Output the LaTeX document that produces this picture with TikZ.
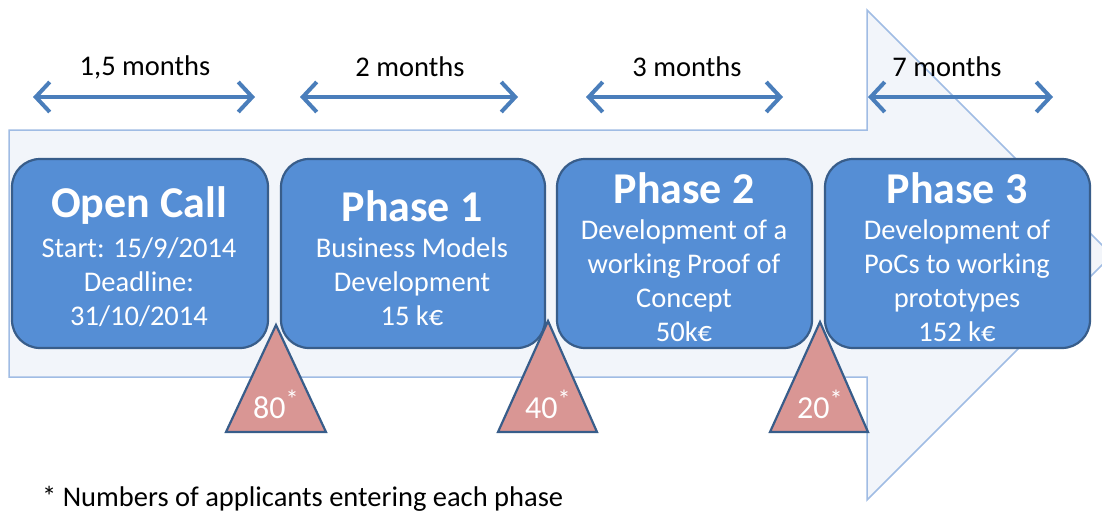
\documentclass[tikz,border=0pt]{standalone}
\usepackage{fontspec}
\setmainfont{Carlito}
\usetikzlibrary{arrows.meta}
\definecolor{bigfill}{RGB}{242,245,250}
\definecolor{bigline}{RGB}{160,188,228}
\definecolor{boxfill}{RGB}{85,142,213}
\definecolor{boxline}{RGB}{56,93,138}
\definecolor{trifill}{RGB}{217,150,148}
\definecolor{spanblue}{RGB}{74,126,187}
\tikzset{
  phasebox/.style={draw=boxline, line width=2.2pt, fill=boxfill, rounded corners=28pt, inner sep=0pt},
  titletext/.style={text=white, font=\fontsize{44}{50}\selectfont\bfseries, inner sep=0pt},
  bodytext/.style={text=white, font=\fontsize{28.5}{34}\selectfont, align=center, inner sep=0pt},
  tri/.style={draw=boxline, line width=2.2pt, fill=trifill, line join=miter},
  tritext/.style={text=white, font=\fontsize{32}{36}\selectfont, inner sep=0pt},
  span/.style={draw=spanblue, line width=4pt, {Straight Barb[length=14pt, width=30pt]}-{Straight Barb[length=14pt, width=30pt]}},
  spantext/.style={text=black, font=\fontsize{28.5}{34}\selectfont, inner sep=0pt},
}
\newcommand{\supstar}{\raisebox{10pt}{\fontsize{26}{26}\selectfont *}}
\begin{document}
\begin{tikzpicture}[x=1pt, y=-1pt]
\useasboundingbox (0,0) rectangle (1102,512);
\clip (0,0) rectangle (1102,512);
% big arrow
\draw[fill=bigfill, draw=bigline, line width=1.5pt]
  (9,130) -- (867,130) -- (867,10) -- (1112,255) -- (867,500) -- (867,377) -- (9,377) -- cycle;
% boxes
\node[phasebox, minimum width=256pt, minimum height=189pt] (b0) at (140,253.5) {};
\node[phasebox, minimum width=264pt, minimum height=189pt] (b1) at (413,253.5) {};
\node[phasebox, minimum width=255pt, minimum height=189pt] (b2) at (684.5,253.5) {};
\node[phasebox, minimum width=265pt, minimum height=189pt] (b3) at (957.5,253.5) {};
% titles
\node[titletext] (t0) at (139,206) {Open Call};
\node[titletext] (t1) at (412,206) {Phase 1};
\node[titletext] (t2) at (684,188) {Phase 2};
\node[titletext] (t3) at (957,188) {Phase 3};
% bodies
\node[bodytext, anchor=north] (d0) at (139,238) {Start: 15/9/2014\\Deadline:\\31/10/2014};
\node[bodytext, anchor=north] (d1) at (412,238) {Business Models\\Development\\15 k€};
\node[bodytext, anchor=north] (d2) at (684,220) {Development of a\\working Proof of\\Concept\\50k€};
\node[bodytext, anchor=north] (d3) at (957,220) {Development of\\PoCs to working\\prototypes\\152 k€};
% triangles
\draw[tri] (276,325) -- (326,432) -- (226,432) -- cycle;
\draw[tri] (548,321) -- (597,432) -- (498,432) -- cycle;
\draw[tri] (820,322) -- (868,432) -- (770,432) -- cycle;
\node[tritext, anchor=base west] (n0) at (253,418) {80\supstar};
\node[tritext, anchor=base west] (n1) at (525,418) {40\supstar};
\node[tritext, anchor=base west] (n2) at (797,418) {20\supstar};
% spans
\coordinate (s0a) at (33,97);  \coordinate (s0b) at (255,97);
\coordinate (s1a) at (300,97); \coordinate (s1b) at (518,97);
\coordinate (s2a) at (586,97); \coordinate (s2b) at (783,97);
\coordinate (s3a) at (868,97); \coordinate (s3b) at (1053,97);
\draw[span] (s0a) -- (s0b);
\draw[span] (s1a) -- (s1b);
\draw[span] (s2a) -- (s2b);
\draw[span] (s3a) -- (s3b);
\node[spantext] (m0) at (145,67) {1,5 months};
\node[spantext] (m1) at (410,67) {2 months};
\node[spantext] (m2) at (687,67) {3 months};
\node[spantext] (m3) at (947,67) {7 months};
% footnote
\node[spantext, anchor=base west] (fn) at (42,506) {* Numbers of applicants entering each phase};
\end{tikzpicture}
\end{document}
